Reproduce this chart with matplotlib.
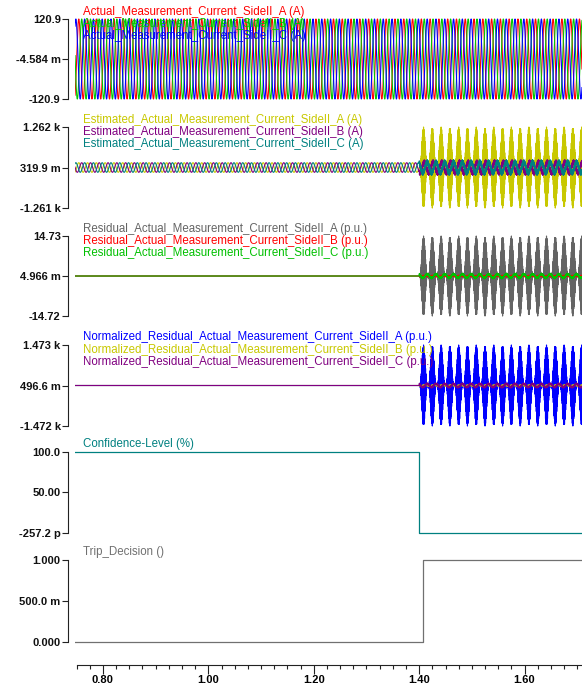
import matplotlib
matplotlib.use("Agg")
import matplotlib.pyplot as plt
import numpy as np
from matplotlib.ticker import FixedLocator, FixedFormatter, MultipleLocator

plt.rcParams['font.family'] = ['Liberation Sans', 'DejaVu Sans']

W, H, DPI = 582, 690, 100

# time base / events
t_start, t_end = 0.747, 1.709
f_sys = 60.0          # system frequency (Hz)
t_fault = 1.400       # start of the disturbance
t_trip = 1.407        # trip decision step
dt = 1.0 / 12000

# panel 1: measured currents (A)
p1_names = ['Actual_Measurement_Current_SideII_A (A)',
            'Actual_Measurement_Current_SideII_B (A)',
            'Actual_Measurement_Current_SideII_C (A)']
p1_colors = ['#ff0000', '#00c800', '#0000ff']
p1_amp = [120.9, 120.9, 120.9]
p1_phase = [0, -120, 120]
p1_ticks = [120.9, -4.584e-3, -120.9]
p1_ticklabels = ['120.9', '-4.584 m', '-120.9']

# panel 2: estimated currents (A)
p2_names = ['Estimated_Actual_Measurement_Current_SideII_A (A)',
            'Estimated_Actual_Measurement_Current_SideII_B (A)',
            'Estimated_Actual_Measurement_Current_SideII_C (A)']
p2_colors = ['#c8c800', '#800080', '#008080']
p2_amp_pre = [150, 150, 150]
p2_amp_post = [1262, 165, 165]
p2_phase = [0, -120, 120]
p2_ticks = [1262, 0.3199, -1261]
p2_ticklabels = ['1.262 k', '319.9 m', '-1.261 k']

# panel 3: residuals (p.u.)
p3_names = ['Residual_Actual_Measurement_Current_SideII_A (p.u.)',
            'Residual_Actual_Measurement_Current_SideII_B (p.u.)',
            'Residual_Actual_Measurement_Current_SideII_C (p.u.)']
p3_colors = ['#646464', '#ff0000', '#00c000']
p3_amp_post = [14.73, 0.2, 0.7]
p3_ticks = [14.73, 4.966e-3, -14.72]
p3_ticklabels = ['14.73', '4.966 m', '-14.72']

# panel 4: normalized residuals (p.u.)
p4_names = ['Normalized_Residual_Actual_Measurement_Current_SideII_A (p.u.)',
            'Normalized_Residual_Actual_Measurement_Current_SideII_B (p.u.)',
            'Normalized_Residual_Actual_Measurement_Current_SideII_C (p.u.)']
p4_colors = ['#0000ff', '#c8c800', '#800080']
p4_amp_post = [1473, 12, 60]
p4_ticks = [1473, 0.4966, -1472]
p4_ticklabels = ['1.473 k', '496.6 m', '-1.472 k']

# panel 5: confidence level (%)
p5_name = 'Confidence-Level (%)'
p5_color = '#008080'
p5_levels = [100.0, -257.2e-12]
p5_ticks = [100.0, 50.0, -257.2e-12]
p5_ticklabels = ['100.0', '50.00', '-257.2 p']

# panel 6: trip decision
p6_name = 'Trip_Decision ()'
p6_color = '#707070'
p6_levels = [0.0, 1.0]
p6_ticks = [1.0, 0.5, 0.0]
p6_ticklabels = ['1.000', '500.0 m', '0.000']

# pixel rows of the top / bottom tick of every panel
panel_rows = [(19, 99), (127, 208), (236, 316), (345, 426), (452, 533), (560, 642)]
label_x = 83
label_dy = 12.3

t = np.arange(t_start, t_end, dt)
after = t >= t_fault
w = 2 * np.pi * f_sys


def spindle(amp):
    env = np.abs(np.sin(w / 2 * (t - t_fault))) ** 3
    sig = amp * env * np.sin(2 * np.pi * 1830 * t)
    return np.where(after, sig, 0.0)


def band(amp, ph):
    sig = amp * np.sin(w * t + np.radians(ph)) + 0.45 * amp * np.sin(2 * np.pi * 1210 * t)
    return np.where(after, sig, 0.0)


fig = plt.figure(figsize=(W / DPI, H / DPI), dpi=DPI)
pad = 4
axes = []
for (top, bot), ticks in zip(panel_rows, [p1_ticks, p2_ticks, p3_ticks, p4_ticks, p5_ticks, p6_ticks]):
    hi, lo = ticks[0], ticks[-1]
    per_px = (hi - lo) / (bot - top)
    ax = fig.add_axes([75 / W, 1 - (bot + pad) / H, 1 - 75 / W, (bot - top + 2 * pad) / H])
    ax.set_xlim(t_start, t_end)
    ax.set_ylim(lo - pad * per_px, hi + pad * per_px)
    for s in ['top', 'right', 'bottom']:
        ax.spines[s].set_visible(False)
    ax.spines['left'].set_position(('outward', 5))
    ax.spines['left'].set_bounds(lo, hi)
    ax.spines['left'].set_linewidth(0.8)
    ax.spines['left'].set_color('#222222')
    ax.tick_params(axis='y', length=4.3, width=0.8, color='#222222', pad=1,
                   labelsize=8, labelcolor='#111111')
    ax.tick_params(axis='x', bottom=False, labelbottom=False)
    axes.append(ax)

# panel 1
for amp, ph, c in zip(p1_amp, p1_phase, p1_colors):
    axes[0].plot(t, amp * np.sin(w * t + np.radians(ph)), color=c, lw=0.8)

# panel 2
for i, (c, ph) in enumerate(zip(p2_colors, p2_phase)):
    pre = p2_amp_pre[i] * np.sin(w * t + np.radians(ph))
    if i == 0:
        post = spindle(p2_amp_post[i])
    else:
        post = band(p2_amp_post[i], ph)
    axes[1].plot(t, np.where(after, post, pre), color=c, lw=0.8)

# panel 3
for i, c in enumerate(p3_colors):
    sig = spindle(p3_amp_post[i]) if i == 0 else band(p3_amp_post[i], -120 * i)
    axes[2].plot(t, sig, color=c, lw=0.8)

# panel 4
for i, c in enumerate(p4_colors):
    sig = spindle(p4_amp_post[i]) if i == 0 else band(p4_amp_post[i], -120 * i)
    axes[3].plot(t, sig + 0.4966, color=c, lw=0.8)

# panel 5 and 6: steps
axes[4].plot([t_start, t_fault, t_fault, t_end],
             [p5_levels[0], p5_levels[0], p5_levels[1], p5_levels[1]], color=p5_color, lw=0.9)
axes[5].plot([t_start, t_trip, t_trip, t_end],
             [p6_levels[0], p6_levels[0], p6_levels[1], p6_levels[1]], color=p6_color, lw=0.9)

# ticks of every panel
all_ticks = [p1_ticks, p2_ticks, p3_ticks, p4_ticks, p5_ticks, p6_ticks]
all_labels = [p1_ticklabels, p2_ticklabels, p3_ticklabels, p4_ticklabels, p5_ticklabels, p6_ticklabels]
for ax, tk, lb in zip(axes, all_ticks, all_labels):
    ax.yaxis.set_major_locator(FixedLocator(tk))
    ax.yaxis.set_major_formatter(FixedFormatter(lb))
    for txt in ax.get_yticklabels():
        txt.set_fontweight('bold')

# signal names
names = [p1_names, p2_names, p3_names, p4_names, [p5_name], [p6_name]]
colors = [p1_colors, p2_colors, p3_colors, p4_colors, [p5_color], [p6_color]]
for (top, bot), nm, cl in zip(panel_rows, names, colors):
    for k, (n, c) in enumerate(zip(nm, cl)):
        y = top - 7.5 + k * label_dy
        fig.text(label_x / W, 1 - y / H, n, color=c, fontsize=8.3, va='center', ha='left')

# x axis on the last panel
ax = axes[5]
ax.spines['bottom'].set_visible(True)
ax.spines['bottom'].set_position(('outward', 13.7))
ax.spines['bottom'].set_bounds(0.75, t_end)
ax.spines['bottom'].set_linewidth(0.8)
ax.spines['bottom'].set_color('#222222')
ax.xaxis.set_major_locator(MultipleLocator(0.2))
ax.xaxis.set_minor_locator(MultipleLocator(0.025))
ax.xaxis.set_major_formatter(plt.FuncFormatter(lambda v, p: f'{v:.2f}'))
ax.tick_params(axis='x', which='major', bottom=True, labelbottom=True, length=6.5, width=0.8,
               color='#222222', labelsize=8, pad=0.5)
ax.tick_params(axis='x', which='minor', bottom=True, length=2.9, width=0.8, color='#222222')
for txt in ax.get_xticklabels():
    txt.set_fontweight('bold')

fig.savefig('out.png', dpi=DPI)
